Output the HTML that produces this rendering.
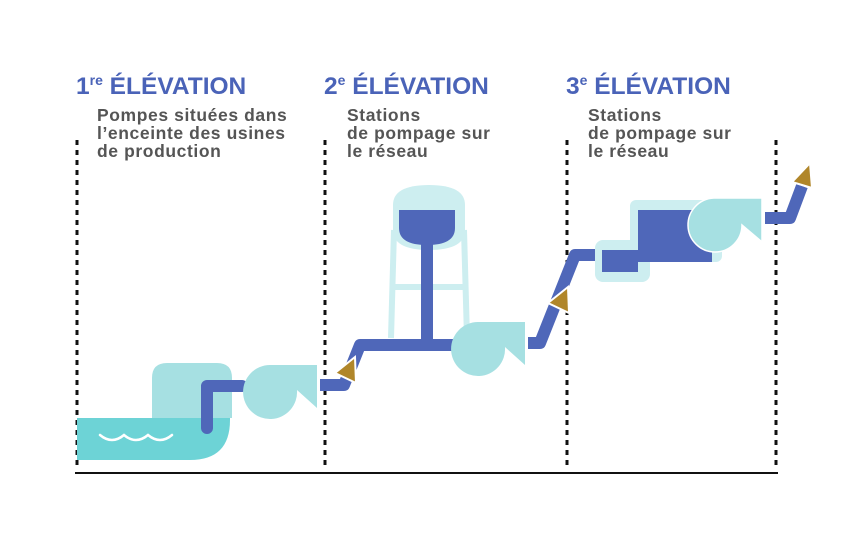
<!DOCTYPE html>
<html><head><meta charset="utf-8"><style>
body{margin:0;background:#fff}
svg{display:block}
.h{font-family:"Liberation Sans",sans-serif;font-weight:bold;font-size:24.5px;fill:#4a63b8}
.s{font-family:"Liberation Sans",sans-serif;font-weight:bold;font-size:17.5px;letter-spacing:0.6px;fill:#555}
.d{stroke:#111;stroke-width:3;stroke-dasharray:5,5}
.p{fill:none;stroke:#4f67b9;stroke-width:12;stroke-linejoin:round}
</style></head><body>
<svg width="859" height="542" viewBox="0 0 859 542">
<text class="h" x="76" y="94">1<tspan font-size="14" dy="-9">re</tspan><tspan dy="9"> ÉLÉVATION</tspan></text>
<text class="h" x="324" y="94">2<tspan font-size="14" dy="-9">e</tspan><tspan dy="9"> ÉLÉVATION</tspan></text>
<text class="h" x="566" y="94">3<tspan font-size="14" dy="-9">e</tspan><tspan dy="9"> ÉLÉVATION</tspan></text>
<text class="s" x="97" y="121">Pompes situées dans</text>
<text class="s" x="97" y="139">l’enceinte des usines</text>
<text class="s" x="97" y="157">de production</text>
<text class="s" x="347" y="121">Stations</text>
<text class="s" x="347" y="139">de pompage sur</text>
<text class="s" x="347" y="157">le réseau</text>
<text class="s" x="588" y="121">Stations</text>
<text class="s" x="588" y="139">de pompage sur</text>
<text class="s" x="588" y="157">le réseau</text>
<line class="d" x1="77" y1="140" x2="77" y2="470"/>
<line class="d" x1="325" y1="140" x2="325" y2="470"/>
<line class="d" x1="567" y1="140" x2="567" y2="470"/>
<line class="d" x1="776" y1="140" x2="776" y2="470"/>
<line x1="75" y1="473" x2="778" y2="473" stroke="#111" stroke-width="2"/>
<!-- section 1 -->
<path d="M152,418 V378 Q152,363 167,363 H217 Q232,363 232,378 V418 Z" fill="#a6e0e2"/>
<path d="M77,418 H230 V420 Q230,460 190,460 H77 Z" fill="#6dd3d6"/>
<path d="M100,435 q12,10 24,0 q12,10 24,0 q12,10 24,0" fill="none" stroke="#fff" stroke-width="2.5" stroke-linecap="round"/>
<path class="p" d="M207,428 V386 H242" stroke-linecap="round"/>
<path d="M270,365 L317,365 L317,408 L297,390 A27,27 0 1 1 270,365 Z" fill="#a6e0e2"/>
<path class="p" d="M320,385 H344 L360,345 H455"/>
<polygon points="335,373 355,357 356,383" fill="#b0862a" stroke="#fff" stroke-width="2"/>
<!-- tower -->
<path d="M393,205 Q393,185 429,185 Q465,185 465,205 V230 Q465,250 429,250 Q393,250 393,230 Z" fill="#cdeef0"/>
<path d="M394,230 L391,338 M464,230 L467,338 M394,287 H464" stroke="#cdeef0" stroke-width="6" fill="none"/>
<path d="M399,210 H455 V228 Q455,245 427,245 Q399,245 399,228 Z" fill="#4f67b9"/>
<rect x="421" y="240" width="12" height="104" fill="#4f67b9"/>
<path d="M478,322 L525,322 L525,365 L505,347 A27,27 0 1 1 478,322 Z" fill="#a6e0e2"/>
<path class="p" d="M528,343 H540 L575,255 H600"/>
<polygon points="548,303 568,287 569,313" fill="#b0862a" stroke="#fff" stroke-width="2"/>
<!-- section 3 -->
<rect x="595" y="240" width="55" height="42" rx="8" fill="#cdeef0"/>
<rect x="630" y="200" width="92" height="62" rx="6" fill="#cdeef0"/>
<rect x="602" y="250" width="36" height="22" fill="#4f67b9"/>
<rect x="638" y="210" width="74" height="52" fill="#4f67b9"/>
<path d="M714,198 L762,198 L762,242 L742,225 A27,27 0 1 1 714,198 Z" fill="#a6e0e2" stroke="#fff" stroke-width="1.5"/>
<path class="p" d="M765,218 H790 L802,186"/>
<polygon points="792,182 810,163 812,188" fill="#b0862a" stroke="#fff" stroke-width="2"/>
</svg>
</body></html>
